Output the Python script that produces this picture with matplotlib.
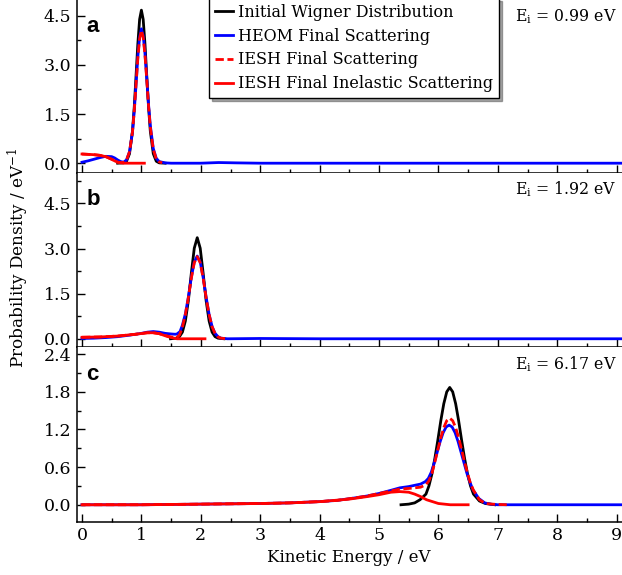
import matplotlib
matplotlib.use("Agg")
import matplotlib.pyplot as plt
from matplotlib.ticker import MultipleLocator, FormatStrFormatter

SERIF = "DejaVu Serif"
plt.rcParams["font.family"] = SERIF
plt.rcParams["mathtext.fontset"] = "custom"
plt.rcParams["mathtext.rm"] = SERIF
plt.rcParams["mathtext.it"] = SERIF + ":italic"

# ---- panel a : Ei = 0.99 eV ----
a_wig_x = [0.60, 0.70, 0.75, 0.80, 0.85, 0.88, 0.91, 0.94, 0.97, 1.00, 1.03, 1.06, 1.09, 1.12, 1.15, 1.20, 1.25, 1.30, 1.40]
a_wig_y = [0.00, 0.01, 0.06, 0.29, 0.98, 1.72, 2.67, 3.64, 4.39, 4.67, 4.39, 3.64, 2.67, 1.72, 0.98, 0.29, 0.06, 0.01, 0.00]
a_heom_x = [0.0, 0.1, 0.2, 0.3, 0.4, 0.5, 0.55, 0.6, 0.65, 0.7, 0.75, 0.80, 0.85, 0.88, 0.91, 0.94, 0.97, 1.00,
            1.03, 1.06, 1.09, 1.12, 1.15, 1.20, 1.25, 1.30, 1.40, 1.5, 2.0, 2.3, 2.6, 3.0, 4.0, 5.0, 6.0, 7.0, 8.0, 9.1]
a_heom_y = [0.03, 0.07, 0.12, 0.17, 0.21, 0.20, 0.16, 0.10, 0.05, 0.03, 0.10, 0.35, 0.95, 1.60, 2.40, 3.25, 3.85, 4.10,
            3.90, 3.35, 2.60, 1.80, 1.15, 0.45, 0.15, 0.05, 0.01, 0.00, 0.00, 0.02, 0.01, 0.00, 0.00, 0.00, 0.00, 0.00, 0.00, 0.00]
a_iesh_x = [0.0, 0.1, 0.2, 0.3, 0.4, 0.5, 0.55, 0.6, 0.65, 0.7, 0.75, 0.80, 0.85, 0.88, 0.91, 0.94, 0.97, 1.00,
            1.03, 1.06, 1.09, 1.12, 1.15, 1.20, 1.25, 1.30, 1.35]
a_iesh_y = [0.28, 0.27, 0.26, 0.24, 0.20, 0.12, 0.07, 0.03, 0.02, 0.02, 0.10, 0.35, 0.95, 1.60, 2.40, 3.20, 3.80, 4.05,
            3.85, 3.30, 2.55, 1.75, 1.10, 0.42, 0.13, 0.04, 0.01]
a_inel_x = [0.0, 0.1, 0.2, 0.3, 0.4, 0.5, 0.55, 0.6, 0.65, 0.7, 1.05]
a_inel_y = [0.28, 0.27, 0.26, 0.24, 0.20, 0.12, 0.07, 0.03, 0.01, 0.00, 0.00]

# ---- panel b : Ei = 1.92 eV ----
b_wig_x = [1.49, 1.59, 1.64, 1.69, 1.74, 1.79, 1.84, 1.89, 1.94, 1.99, 2.04, 2.09, 2.14, 2.19, 2.24, 2.29, 2.39]
b_wig_y = [0.00, 0.02, 0.07, 0.22, 0.59, 1.26, 2.17, 3.01, 3.36, 3.01, 2.17, 1.26, 0.59, 0.22, 0.07, 0.02, 0.00]
b_heom_x = [0.0, 0.2, 0.4, 0.6, 0.8, 1.0, 1.1, 1.2, 1.3, 1.4, 1.5, 1.57, 1.60, 1.65, 1.69, 1.74, 1.79, 1.84, 1.89, 1.94,
            1.99, 2.04, 2.09, 2.14, 2.19, 2.24, 2.29, 2.34, 2.45, 3.0, 4.0, 5.0, 6.0, 7.0, 8.0, 9.1]
b_heom_y = [0.01, 0.02, 0.04, 0.07, 0.12, 0.18, 0.22, 0.24, 0.22, 0.18, 0.16, 0.15, 0.16, 0.24, 0.45, 0.83, 1.38, 2.03, 2.55, 2.75,
            2.55, 2.03, 1.38, 0.81, 0.41, 0.18, 0.07, 0.02, 0.00, 0.01, 0.00, 0.00, 0.00, 0.00, 0.00, 0.00]
b_iesh_x = [0.0, 0.3, 0.6, 0.9, 1.1, 1.2, 1.3, 1.4, 1.5, 1.59, 1.64, 1.69, 1.74, 1.79, 1.84, 1.89, 1.94,
            1.99, 2.04, 2.09, 2.14, 2.19, 2.24, 2.29, 2.34, 2.45]
b_iesh_y = [0.05, 0.06, 0.09, 0.15, 0.20, 0.20, 0.17, 0.11, 0.06, 0.04, 0.12, 0.38, 0.80, 1.36, 2.01, 2.53, 2.73,
            2.53, 2.01, 1.36, 0.80, 0.40, 0.17, 0.06, 0.02, 0.00]
b_inel_x = [0.0, 0.3, 0.6, 0.9, 1.1, 1.2, 1.3, 1.4, 1.5, 1.55, 1.6, 2.07]
b_inel_y = [0.05, 0.06, 0.09, 0.15, 0.20, 0.20, 0.17, 0.10, 0.04, 0.02, 0.00, 0.00]

# ---- panel c : Ei = 6.17 eV ----
c_wig_x = [5.37, 5.5, 5.6, 5.69, 5.79, 5.84, 5.89, 5.94, 5.99, 6.04, 6.09, 6.14, 6.19, 6.24, 6.29, 6.34, 6.39,
           6.44, 6.49, 6.54, 6.59, 6.69, 6.79, 6.95]
c_wig_y = [0.00, 0.01, 0.03, 0.08, 0.17, 0.30, 0.49, 0.74, 1.03, 1.34, 1.61, 1.80, 1.87, 1.80, 1.61, 1.34, 1.03,
           0.74, 0.49, 0.30, 0.17, 0.06, 0.02, 0.00]
c_heom_x = [0.0, 1.0, 2.0, 2.5, 3.0, 3.5, 4.0, 4.3, 4.6, 4.8, 5.0, 5.2, 5.35, 5.5, 5.6, 5.7, 5.78, 5.83, 5.88, 5.93,
            5.98, 6.03, 6.08, 6.13, 6.18, 6.23, 6.28, 6.33, 6.38, 6.43, 6.48, 6.53, 6.58, 6.68, 6.78, 6.88, 7.0, 8.0, 9.1]
c_heom_y = [0.00, 0.00, 0.01, 0.015, 0.02, 0.03, 0.05, 0.07, 0.11, 0.14, 0.18, 0.23, 0.27, 0.29, 0.31, 0.33, 0.37, 0.42, 0.52, 0.67,
            0.84, 1.01, 1.15, 1.24, 1.27, 1.24, 1.15, 1.01, 0.84, 0.67, 0.50, 0.36, 0.24, 0.10, 0.03, 0.01, 0.00, 0.00, 0.00]
c_iesh_x = [0.0, 1.0, 2.0, 2.5, 3.0, 3.5, 4.0, 4.3, 4.6, 4.8, 5.0, 5.2, 5.35, 5.5, 5.6, 5.7, 5.79, 5.84, 5.89, 5.94,
            5.99, 6.04, 6.09, 6.14, 6.19, 6.24, 6.29, 6.34, 6.39, 6.44, 6.49, 6.54, 6.59, 6.69, 6.79, 6.9, 7.15]
c_iesh_y = [0.00, 0.00, 0.01, 0.015, 0.02, 0.03, 0.05, 0.07, 0.11, 0.14, 0.18, 0.22, 0.25, 0.26, 0.27, 0.28, 0.32, 0.38, 0.50, 0.68,
            0.88, 1.07, 1.23, 1.34, 1.38, 1.34, 1.23, 1.07, 0.88, 0.68, 0.50, 0.34, 0.23, 0.08, 0.02, 0.01, 0.00]
c_inel_x = [0.0, 1.0, 2.0, 3.0, 3.5, 4.0, 4.5, 4.8, 5.0, 5.2, 5.35, 5.5, 5.6, 5.7, 5.8, 5.9, 6.0, 6.2, 6.5]
c_inel_y = [0.00, 0.00, 0.01, 0.02, 0.03, 0.05, 0.09, 0.13, 0.16, 0.20, 0.21, 0.20, 0.17, 0.13, 0.08, 0.05, 0.02, 0.00, 0.00]

panels = [
    ("a", "0.99", (a_wig_x, a_wig_y), (a_heom_x, a_heom_y), (a_iesh_x, a_iesh_y), (a_inel_x, a_inel_y)),
    ("b", "1.92", (b_wig_x, b_wig_y), (b_heom_x, b_heom_y), (b_iesh_x, b_iesh_y), (b_inel_x, b_inel_y)),
    ("c", "6.17", (c_wig_x, c_wig_y), (c_heom_x, c_heom_y), (c_iesh_x, c_iesh_y), (c_inel_x, c_inel_y)),
]
ylims = [(-0.29, 4.98), (-0.27, 5.52), (-0.27, 2.51)]
ymajor = [1.5, 1.5, 0.6]

fig = plt.figure(figsize=(6.22, 5.75), dpi=100)
W, H = 622, 575
left = 77 / W
boxes = [(0, 172.7), (172.7, 346.9), (347.3, 521.7)]
axes = []
for top, bot in boxes:
    axes.append(fig.add_axes([left, 1 - bot / H, 1 - left, (bot - top) / H]))

lw = 2.0
for ax, (letter, ei, wig, heom, iesh, inel), yl, ym in zip(axes, panels, ylims, ymajor):
    ax.plot(*wig, color="black", lw=lw, label="Initial Wigner Distribution")
    ax.plot(*heom, color="#0000ff", lw=lw, label="HEOM Final Scattering")
    ax.plot(*inel, color="#ff0000", lw=lw, label="IESH Final Inelastic Scattering")
    ax.plot(*iesh, color="#ff0000", lw=lw, ls=(0, (3, 1.3)), label="IESH Final Scattering")
    ax.set_xlim(-0.084, 9.09)
    ax.set_ylim(*yl)
    ax.xaxis.set_major_locator(MultipleLocator(1))
    ax.xaxis.set_minor_locator(MultipleLocator(0.5))
    ax.yaxis.set_major_locator(MultipleLocator(ym))
    ax.yaxis.set_minor_locator(MultipleLocator(ym / 2))
    ax.yaxis.set_major_formatter(FormatStrFormatter("%.1f"))
    ax.tick_params(which="both", direction="in", top=False, right=False, labelsize=12.5, width=1)
    ax.tick_params(which="major", length=6, pad=4)
    ax.tick_params(which="minor", length=3)
    ax.spines["top"].set_visible(False)
    ax.spines["right"].set_visible(False)
    for s in ("left", "bottom"):
        ax.spines[s].set_linewidth(1.1)
    ax.text(0.017, 0.815, letter, transform=ax.transAxes, fontsize=16, fontweight="bold",
            family="Liberation Sans", va="baseline", ha="left")
    ax.text(0.991, 0.905, r"E$_\mathrm{i}$ = " + ei + " eV", transform=ax.transAxes,
            fontsize=11.3, ha="right", va="center")

for ax in axes[:2]:
    ax.tick_params(labelbottom=False)

h, l = axes[0].get_legend_handles_labels()
order = [0, 1, 3, 2]
leg = axes[0].legend([h[i] for i in order], [l[i] for i in order],
                     loc="upper left", bbox_to_anchor=(209 / W, 1 + 2 / H), bbox_transform=fig.transFigure,
                     fontsize=11.5, frameon=True, fancybox=False, shadow=True, edgecolor="black",
                     framealpha=1, handlelength=1.1, handletextpad=0.35, labelspacing=0.42,
                     borderpad=0.38, borderaxespad=0)
leg.get_frame().set_linewidth(1.0)

fig.text(0.03, 1 - 258 / H, r"Probability Density / eV$^{-1}$", rotation=90, fontsize=12.2,
         ha="center", va="center")
fig.text(349 / W, 1 - 557 / H, "Kinetic Energy / eV", fontsize=12, ha="center", va="center")

plt.savefig("out.png", dpi=100)
